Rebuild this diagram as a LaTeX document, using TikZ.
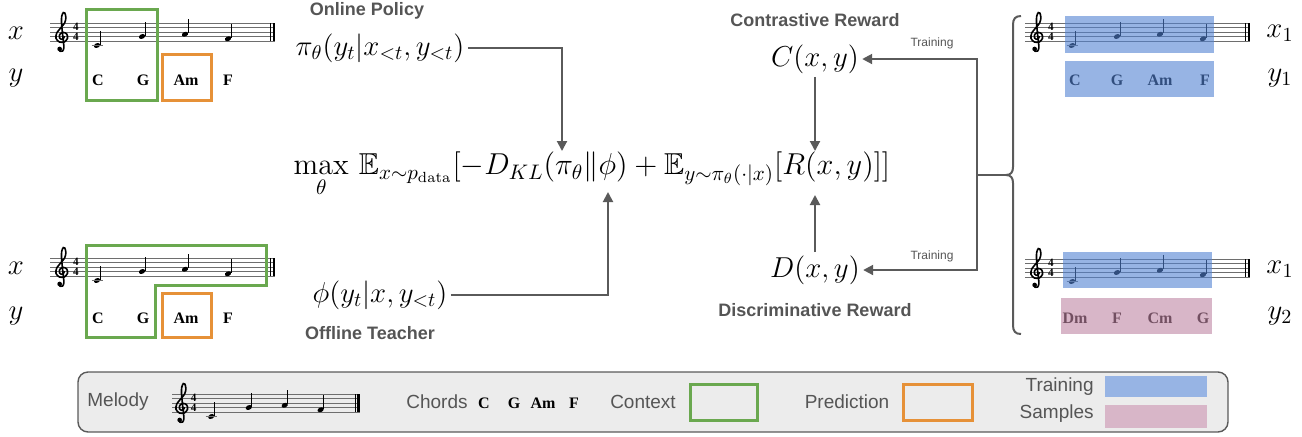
\documentclass[tikz,border=0pt]{standalone}
\usepackage{fontspec}
\usepackage{amssymb}
\usetikzlibrary{arrows.meta}
\newfontfamily\lsans{Liberation Sans}
\newfontfamily\lserif{Liberation Serif}
\definecolor{ctxgreen}{RGB}{106,168,79}
\definecolor{predorange}{RGB}{230,145,56}
\definecolor{trainblue}{RGB}{151,180,228}
\definecolor{samplepink}{RGB}{216,182,200}
\definecolor{trainover}{RGB}{82,130,210}
\definecolor{sampleover}{RGB}{190,133,163}
\definecolor{arrgray}{RGB}{90,90,90}
\definecolor{txtgray}{RGB}{85,85,85}
\definecolor{staffgray}{RGB}{110,110,110}
\definecolor{legendfill}{RGB}{236,236,236}

\tikzset{
  staffline/.style={draw=staffgray, line width=0.4pt},
  timesig/.style={inner sep=0pt, font=\lserif\bfseries\fontsize{5.6}{5.6}\selectfont},
  chord/.style={inner sep=0pt, font=\lserif\bfseries\fontsize{8}{9}\selectfont},
  mathlbl/.style={inner sep=1.5pt, font=\fontsize{14}{16}\selectfont},
  headlbl/.style={inner sep=0pt, text=txtgray, font=\lsans\bfseries\fontsize{9}{10}\selectfont},
  leglbl/.style={inner sep=0pt, text=txtgray, font=\lsans\fontsize{9.5}{11}\selectfont},
  trainlbl/.style={inner sep=0pt, text=txtgray, font=\lsans\fontsize{6}{7}\selectfont},
  arr/.style={draw=arrgray, line width=1pt, -{Triangle[length=5pt,width=5pt]}},
  conn/.style={draw=arrgray, line width=1pt},
  ctxbox/.style={draw=ctxgreen, line width=1.5pt},
  predbox/.style={draw=predorange, line width=1.5pt},
  trainover/.style={fill=trainover, fill opacity=0.6},
  sampleover/.style={fill=sampleover, fill opacity=0.6},
}

\newcommand\gclef[2]{%
  \begin{scope}[shift={({#1},{#2})}, scale=5.2]
    \draw[line width=0.8pt, line cap=round] plot[smooth, tension=0.55] coordinates {(0.45,0.05) (0.1,0.55) (-0.45,0.3) (-0.45,-0.35) (0.15,-0.8) (0.9,-0.5) (1.05,0.35) (0.45,1.05) (-0.5,1.05) (-1.15,0.35) (-1.0,-0.7) (-0.2,-1.7) (0.5,-2.6) (0.75,-3.6) (0.55,-4.5) (0.25,-4.6) (-0.05,-3.9) (-0.1,-2.8) (0.05,-1) (0.3,1.2) (0.35,2.2) (0.1,2.8) (-0.45,2.8)};
    \fill (-0.45,2.4) circle (0.45);
  \end{scope}}

\newcommand\mnote[3]{%
  \fill[rotate around={25:({#1},{#2})}] ({#1},{#2}) ellipse [x radius=3.3, y radius=2.3];
  \draw[line width=0.5pt] ({#1+3.0},{#2-0.8}) -- ({#1+3.0},{#2-15});
  \ifnum#3=1 \draw[staffline] ({#1-5.5},{#2}) -- ({#1+5.5},{#2});\fi}

% #1 x0, #2 centre line y, #3 horizontal scale, #4 name prefix
\newcommand\mstaff[4]{%
  \foreach \k in {-2,-1,0,1,2}{\draw[staffline] ({#1},{#2+4.5*\k}) -- ({#1+225*#3},{#2+4.5*\k});}
  \draw[line width=0.5pt] ({#1+225*#3-4.5},{#2-9}) -- ({#1+225*#3-4.5},{#2+9});
  \fill ({#1+225*#3-2.5},{#2-9}) rectangle ({#1+225*#3},{#2+9});
  \gclef{#1+12*#3}{#2+4.5}
  \node[timesig] (#4-t1) at ({#1+26*#3},{#2-4.8}) {4};
  \node[timesig] (#4-t2) at ({#1+26*#3},{#2+4.8}) {4};
  \mnote{#1+47*#3}{#2+13.5}{1}
  \mnote{#1+92*#3}{#2+4.5}{0}
  \mnote{#1+135*#3}{#2+2.25}{0}
  \mnote{#1+178*#3}{#2+6.75}{0}}

\begin{document}
\begin{tikzpicture}[x=0.5pt, y=-0.5pt]
\useasboundingbox (0,0) rectangle (1302,436);

% ---------- left examples ----------
\node[mathlbl] (lx1) at (16,33) {$x$};
\node[mathlbl] (ly1) at (16,78) {$y$};
\mstaff{50}{32}{1}{s1}
\node[chord] (c1a) at (98,80) {C};
\node[chord] (c1b) at (143,80) {G};
\node[chord] (c1c) at (186,80) {Am};
\node[chord] (c1d) at (228,80) {F};
\draw[ctxbox] (86,9) rectangle (157,100);
\draw[predbox] (162,54) rectangle (211,100);

\node[mathlbl] (lx2) at (16,268) {$x$};
\node[mathlbl] (ly2) at (16,316) {$y$};
\mstaff{50}{267}{1}{s2}
\node[chord] (c2a) at (98,318) {C};
\node[chord] (c2b) at (143,318) {G};
\node[chord] (c2c) at (186,318) {Am};
\node[chord] (c2d) at (228,318) {F};
\draw[ctxbox] (86,245) -- (266,245) -- (266,285) -- (155,285) -- (155,337) -- (86,337) -- cycle;
\draw[predbox] (162,293) rectangle (211,337);

% ---------- centre ----------
\node[headlbl] (hop) at (367,11) {Online Policy};
\node[mathlbl] (pol) at (380,48) {$\pi_\theta(y_t|x_{<t},y_{<t})$};
\node[mathlbl] (tea) at (380,295) {$\phi(y_t|x,y_{<t})$};
\node[headlbl] (hot) at (370,333) {Offline Teacher};

\node[inner sep=0pt, font=\fontsize{14.4}{18}\selectfont, scale=1.05, transform shape] (obj) at (592,175)
  {$\max\limits_{\theta}\,\mathbb{E}_{x\sim p_{\mathrm{data}}}[-D_{KL}(\pi_\theta\|\phi)+\mathbb{E}_{y\sim\pi_\theta(\cdot|x)}[R(x,y)]]$};

\node[headlbl] (hcr) at (815,20) {Contrastive Reward};
\node[mathlbl] (cr) at (815,59) {$C(x,y)$};
\node[mathlbl] (dr) at (815,270) {$D(x,y)$};
\node[headlbl] (hdr) at (815,310) {Discriminative Reward};

\coordinate (pT) at (562,151);
\coordinate (tT) at (608,192);
\coordinate (cT) at (815,151);
\coordinate (dT) at (815,195);
\draw[arr] (pol.east) -| (pT);
\draw[arr] (tea.east) -| (tT);
\draw[arr] (cr.south) -- (cT);
\draw[arr] (dr.north) -- (dT);

\coordinate (bj) at (977,175);
\coordinate (btip) at (1006,175);
\draw[conn] (btip) -- (bj);
\draw[arr] (bj) |- (cr.east);
\draw[arr] (bj) |- (dr.east);
\node[trainlbl] (tl1) at (932,43) {Training};
\node[trainlbl] (tl2) at (932,256) {Training};

% brace
\draw[draw=arrgray, line width=1pt] (1021,16) .. controls (1015,16) and (1013,19) .. (1013,25) -- (1013,167)
  .. controls (1013,172) and (1011,175) .. (btip) .. controls (1011,175) and (1013,178) .. (1013,183)
  -- (1013,325) .. controls (1013,331) and (1015,334) .. (1021,334);

% ---------- right examples ----------
\mstaff{1025}{32}{1}{s3}
\node[chord] (c3a) at (1075,80) {C};
\node[chord] (c3b) at (1117,80) {G};
\node[chord] (c3c) at (1160,80) {Am};
\node[chord] (c3d) at (1205,80) {F};
\path[trainover] (1065,16) rectangle (1214,53);
\path[trainover] (1065,61) rectangle (1214,97);
\node[mathlbl] (rx1) at (1280,33) {$x_1$};
\node[mathlbl] (ry1) at (1280,78) {$y_1$};

\mstaff{1025}{268}{1}{s4}
\node[chord] (c4a) at (1075,318) {Dm};
\node[chord] (c4b) at (1117,318) {F};
\node[chord] (c4c) at (1160,318) {Cm};
\node[chord] (c4d) at (1203,318) {G};
\path[trainover] (1063,252) rectangle (1212,288);
\path[sampleover] (1061,298) rectangle (1212,334);
\node[mathlbl] (rx2) at (1280,269) {$x_1$};
\node[mathlbl] (ry2) at (1280,316) {$y_2$};

% ---------- legend ----------
\draw[draw=arrgray, fill=legendfill, line width=0.7pt, rounded corners=5pt] (78,372) rectangle (1228,432);
\node[leglbl] (lmel) at (118,402) {Melody};
\mstaff{172}{403}{0.835}{s5}
\node[leglbl] (lch) at (437,402) {Chords};
\node[chord] (l5a) at (484,403) {C};
\node[chord] (l5b) at (514,403) {G};
\node[chord] (l5c) at (543,403) {Am};
\node[chord] (l5d) at (574,403) {F};
\node[leglbl] (lctx) at (643,402) {Context};
\draw[ctxbox] (690,384) rectangle (757,420);
\node[leglbl] (lpred) at (847,402) {Prediction};
\draw[predbox] (903,384) rectangle (972,420);
\node[leglbl, anchor=east] (ltr) at (1094,387) {Training};
\fill[trainblue] (1105,376) rectangle (1207,397);
\node[leglbl, anchor=east] (lsa) at (1094,414) {Samples};
\fill[samplepink] (1105,405) rectangle (1207,428);
\end{tikzpicture}
\end{document}
